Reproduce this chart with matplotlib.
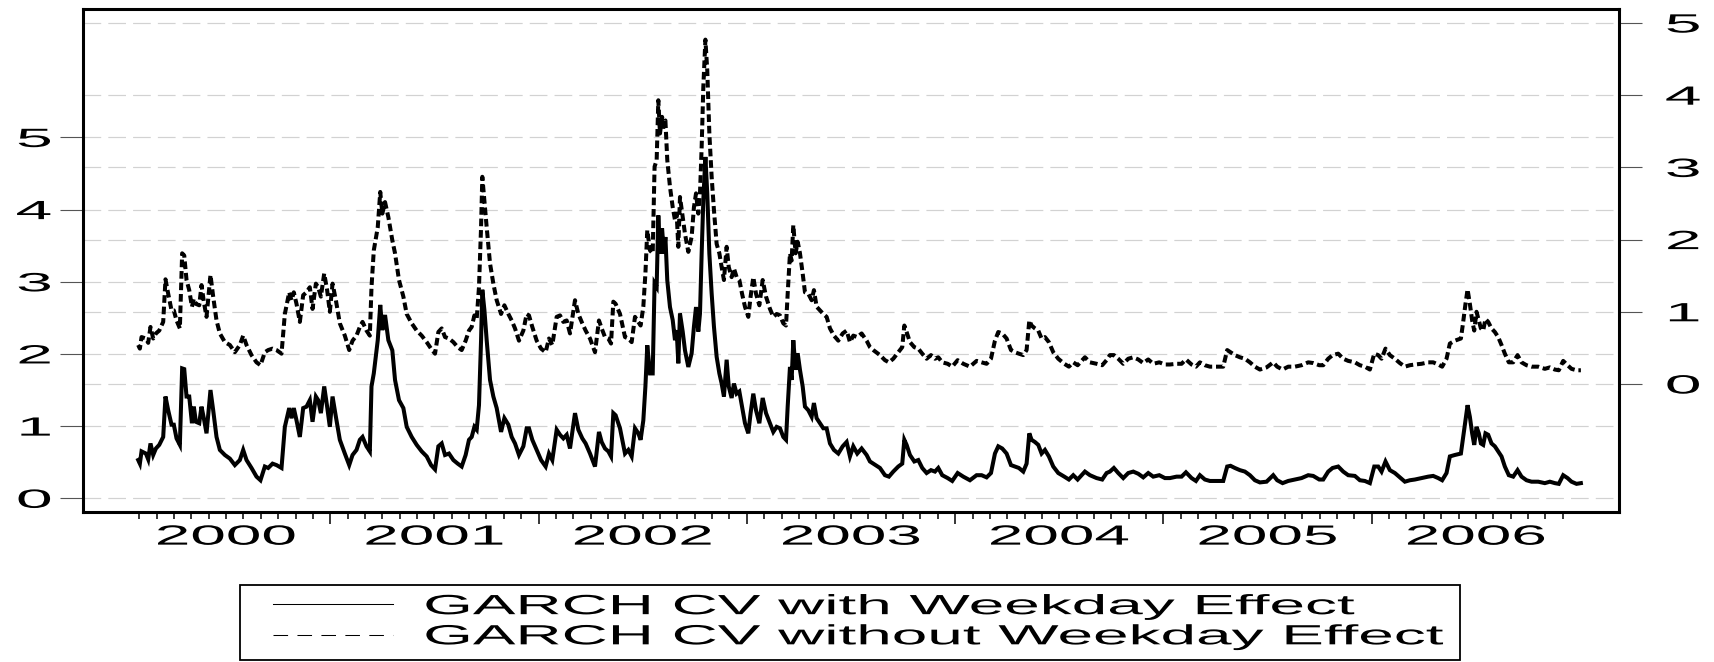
import matplotlib
matplotlib.use("Agg")
import numpy as np
import matplotlib.pyplot as plt
from matplotlib.lines import Line2D
from matplotlib.patheffects import AbstractPathEffect
from matplotlib.transforms import Affine2D
from matplotlib.legend_handler import HandlerLine2D

plt.rcParams['font.family'] = ['Liberation Sans', 'DejaVu Sans']

# ---------------- data (decimal year) ----------------
t = [2000.078, 2000.086, 2000.094, 2000.115, 2000.126, 2000.137, 2000.150, 2000.163, 2000.179, 2000.198,
     2000.209, 2000.222, 2000.238, 2000.249, 2000.262, 2000.278, 2000.289, 2000.299, 2000.310, 2000.323,
     2000.336, 2000.345, 2000.355, 2000.371, 2000.382, 2000.393, 2000.406, 2000.425, 2000.438, 2000.454,
     2000.470, 2000.494, 2000.518, 2000.542, 2000.566, 2000.582, 2000.598, 2000.622, 2000.646, 2000.665,
     2000.686, 2000.702, 2000.723, 2000.742, 2000.766, 2000.782, 2000.803, 2000.814, 2000.825, 2000.838,
     2000.854, 2000.870, 2000.886, 2000.902, 2000.915, 2000.931, 2000.942, 2000.955, 2000.971, 2000.985,
     2000.998, 2001.011, 2001.027, 2001.046, 2001.070, 2001.091, 2001.107, 2001.126, 2001.142, 2001.155,
     2001.174, 2001.190, 2001.198, 2001.209,
     2001.228, 2001.240, 2001.250, 2001.263, 2001.279, 2001.298, 2001.311, 2001.330, 2001.351, 2001.367,
     2001.391, 2001.415, 2001.439, 2001.463, 2001.484, 2001.503, 2001.519, 2001.535, 2001.551, 2001.570,
     2001.591, 2001.612, 2001.631, 2001.650, 2001.666, 2001.679, 2001.692, 2001.703, 2001.714, 2001.724,
     2001.730, 2001.740, 2001.751, 2001.767, 2001.783, 2001.799, 2001.820, 2001.836, 2001.855, 2001.871,
     2001.887, 2001.906, 2001.927, 2001.943, 2001.954, 2001.970, 2001.991, 2002.012, 2002.034, 2002.050,
     2002.066, 2002.087, 2002.103, 2002.119, 2002.135, 2002.151, 2002.175, 2002.191, 2002.210, 2002.226,
     2002.247, 2002.271, 2002.290, 2002.303, 2002.319, 2002.335, 2002.348, 2002.359, 2002.370,
     2002.391, 2002.415, 2002.431, 2002.447, 2002.463, 2002.479, 2002.490, 2002.503, 2002.513, 2002.522,
     2002.535, 2002.548, 2002.557, 2002.567, 2002.575, 2002.583, 2002.593, 2002.602, 2002.609, 2002.618,
     2002.631, 2002.644, 2002.655, 2002.663, 2002.671, 2002.679, 2002.692, 2002.703, 2002.719, 2002.735,
     2002.746, 2002.756, 2002.767, 2002.775, 2002.783, 2002.791, 2002.801, 2002.810, 2002.820, 2002.831,
     2002.842, 2002.855, 2002.868, 2002.879, 2002.890, 2002.903, 2002.913, 2002.927, 2002.938, 2002.951,
     2002.964, 2002.977, 2002.991, 2003.007, 2003.018, 2003.031, 2003.044, 2003.060, 2003.076, 2003.092,
     2003.111, 2003.127, 2003.143, 2003.159, 2003.175, 2003.188, 2003.196, 2003.207, 2003.215, 2003.223,
     2003.234, 2003.244, 2003.255, 2003.268, 2003.279, 2003.295, 2003.311, 2003.322, 2003.335, 2003.351,
     2003.367, 2003.383, 2003.399, 2003.418, 2003.439, 2003.460, 2003.479, 2003.495, 2003.511, 2003.530,
     2003.551, 2003.575, 2003.591,
     2003.607, 2003.639, 2003.663, 2003.682, 2003.703, 2003.727, 2003.746, 2003.756, 2003.767, 2003.783,
     2003.804, 2003.823, 2003.842, 2003.863, 2003.884, 2003.903, 2003.919, 2003.938, 2003.964, 2003.986,
     2004.012, 2004.039, 2004.071, 2004.103, 2004.127, 2004.151, 2004.172, 2004.191, 2004.207, 2004.226,
     2004.247, 2004.268, 2004.287, 2004.306, 2004.327, 2004.343, 2004.356, 2004.367, 2004.383, 2004.399,
     2004.415, 2004.431, 2004.450, 2004.471, 2004.495, 2004.524, 2004.546, 2004.567, 2004.588, 2004.623,
     2004.647, 2004.679, 2004.706, 2004.727,
     2004.743, 2004.762, 2004.783, 2004.807, 2004.831, 2004.855, 2004.879, 2004.903, 2004.927, 2004.951,
     2004.980, 2005.007, 2005.031, 2005.063, 2005.087, 2005.108, 2005.135, 2005.156, 2005.175, 2005.199,
     2005.223, 2005.255, 2005.287, 2005.306, 2005.322, 2005.343, 2005.367, 2005.391, 2005.415, 2005.439,
     2005.463, 2005.495, 2005.527, 2005.546, 2005.572, 2005.599, 2005.631, 2005.663, 2005.695, 2005.719,
     2005.748, 2005.767, 2005.791, 2005.812, 2005.839, 2005.863, 2005.887,
     2005.919, 2005.943, 2005.967, 2005.991, 2006.012, 2006.031, 2006.047, 2006.066, 2006.087, 2006.111,
     2006.135, 2006.159, 2006.183, 2006.207, 2006.239, 2006.271, 2006.295, 2006.319, 2006.338, 2006.359,
     2006.375, 2006.399, 2006.428, 2006.439, 2006.450, 2006.460, 2006.471, 2006.482, 2006.492, 2006.503,
     2006.514, 2006.524, 2006.535, 2006.546, 2006.559, 2006.575, 2006.591, 2006.607, 2006.623, 2006.639,
     2006.658, 2006.679, 2006.700, 2006.719, 2006.743, 2006.767, 2006.799, 2006.831, 2006.855, 2006.879,
     2006.898, 2006.919, 2006.940, 2006.959, 2006.983, 2007.004]

cv_with = [0.53, 0.48, 0.65, 0.62, 0.54, 0.76, 0.60, 0.69, 0.74, 0.85,
           1.41, 1.22, 1.02, 1.02, 0.83, 0.74, 1.80, 1.79, 1.41, 1.41,
           1.04, 1.27, 1.06, 1.04, 1.27, 1.11, 0.90, 1.50, 1.22, 0.85,
           0.67, 0.60, 0.55, 0.46, 0.53, 0.67, 0.53, 0.42, 0.30, 0.25,
           0.44, 0.42, 0.48, 0.46, 0.42, 0.99, 1.25, 1.11, 1.25, 1.08,
           0.85, 1.25, 1.27, 1.36, 1.06, 1.41, 1.36, 1.18, 1.55, 1.27,
           0.99, 1.41, 1.13, 0.81, 0.62, 0.46, 0.60, 0.67, 0.81, 0.85,
           0.72, 0.65, 1.55, 1.73,
           2.19, 2.68, 2.33, 2.54, 2.19, 2.05, 1.64, 1.36, 1.25, 0.99,
           0.85, 0.74, 0.65, 0.58, 0.46, 0.40, 0.72, 0.76, 0.60, 0.62,
           0.53, 0.48, 0.44, 0.60, 0.81, 0.85, 0.99, 0.95, 1.29, 2.19,
           2.89, 2.61, 2.19, 1.64, 1.41, 1.25, 0.92, 1.11, 1.02, 0.85,
           0.76, 0.60, 0.72, 0.97, 0.97, 0.81, 0.67, 0.53, 0.44, 0.62,
           0.53, 0.95, 0.88, 0.83, 0.88, 0.69, 1.18, 0.95, 0.83, 0.76,
           0.62, 0.44, 0.92, 0.78, 0.69, 0.65, 0.58, 1.18, 1.15,
           0.97, 0.62, 0.67, 0.58, 0.97, 0.90, 0.81, 1.08, 1.55, 2.12,
           1.73, 1.73, 2.98, 2.93, 3.92, 3.39, 3.74, 3.39, 3.62, 3.02,
           2.65, 2.47, 2.19, 2.33, 1.87, 2.56, 2.31, 2.05, 1.82, 2.01,
           2.38, 2.65, 2.31, 2.56, 3.39, 4.13, 4.73, 4.22, 3.39, 2.84,
           2.38, 1.96, 1.73, 1.59, 1.41, 1.92, 1.55, 1.39, 1.59, 1.45,
           1.48, 1.27, 1.04, 0.90, 1.18, 1.45, 1.22, 1.04, 1.39, 1.18,
           1.04, 0.92, 0.99, 0.97, 0.85, 0.81, 1.27, 1.82, 1.64, 2.19,
           1.78, 2.01, 1.78, 1.55, 1.27, 1.22, 1.13, 1.32, 1.11, 1.04,
           0.97, 0.97, 0.76, 0.67, 0.62, 0.72, 0.78, 0.58, 0.72, 0.62,
           0.69, 0.60, 0.51,
           0.48, 0.42, 0.32, 0.30, 0.37, 0.44, 0.48, 0.81, 0.74, 0.60,
           0.51, 0.53, 0.42, 0.35, 0.39, 0.37, 0.42, 0.32, 0.28, 0.24,
           0.35, 0.30, 0.25, 0.32, 0.32, 0.29, 0.35, 0.62, 0.72, 0.69,
           0.62, 0.46, 0.44, 0.42, 0.37, 0.48, 0.90, 0.81, 0.78, 0.74,
           0.62, 0.67, 0.58, 0.44, 0.35, 0.30, 0.26, 0.32, 0.26, 0.37,
           0.32, 0.28, 0.26, 0.35,
           0.37, 0.42, 0.35, 0.28, 0.35, 0.37, 0.34, 0.29, 0.35, 0.30,
           0.32, 0.28, 0.28, 0.30, 0.30, 0.36, 0.28, 0.24, 0.32, 0.26,
           0.24, 0.24, 0.24, 0.44, 0.45, 0.42, 0.39, 0.37, 0.32, 0.25,
           0.22, 0.23, 0.32, 0.25, 0.21, 0.24, 0.26, 0.28, 0.32, 0.31,
           0.26, 0.26, 0.37, 0.42, 0.44, 0.37, 0.32,
           0.31, 0.25, 0.24, 0.21, 0.44, 0.44, 0.37, 0.51, 0.39, 0.35,
           0.29, 0.23, 0.25, 0.26, 0.28, 0.30, 0.31, 0.28, 0.25, 0.35,
           0.58, 0.60, 0.62, 0.85, 1.08, 1.29, 1.13, 0.90, 0.74, 0.99,
           0.90, 0.76, 0.74, 0.90, 0.88, 0.76, 0.72, 0.65, 0.58, 0.44,
           0.32, 0.30, 0.39, 0.30, 0.25, 0.23, 0.23, 0.21, 0.23, 0.21,
           0.20, 0.32, 0.28, 0.23, 0.20, 0.21]

cv_without = [0.54, 0.49, 0.65, 0.63, 0.57, 0.79, 0.63, 0.70, 0.74, 0.86,
              1.45, 1.25, 1.02, 1.02, 0.88, 0.77, 1.81, 1.78, 1.44, 1.30,
              1.07, 1.18, 1.11, 1.09, 1.37, 1.14, 0.93, 1.51, 1.21, 0.88,
              0.70, 0.58, 0.54, 0.44, 0.54, 0.67, 0.54, 0.40, 0.30, 0.26,
              0.44, 0.47, 0.49, 0.47, 0.42, 0.97, 1.27, 1.16, 1.27, 1.11,
              0.86, 1.23, 1.27, 1.34, 1.04, 1.39, 1.34, 1.21, 1.53, 1.30,
              1.00, 1.39, 1.16, 0.84, 0.67, 0.47, 0.60, 0.67, 0.79, 0.86,
              0.74, 0.67, 1.34, 1.85,
              2.17, 2.66, 2.36, 2.52, 2.31, 1.99, 1.81, 1.44, 1.21, 0.97,
              0.84, 0.74, 0.67, 0.58, 0.49, 0.42, 0.72, 0.77, 0.65, 0.63,
              0.58, 0.51, 0.47, 0.60, 0.74, 0.79, 0.95, 0.90, 1.34, 2.17,
              2.87, 2.54, 2.17, 1.67, 1.39, 1.16, 0.97, 1.09, 0.97, 0.88,
              0.77, 0.60, 0.74, 0.97, 0.95, 0.79, 0.60, 0.49, 0.44, 0.63,
              0.54, 0.93, 0.95, 0.86, 0.88, 0.70, 1.16, 0.97, 0.84, 0.74,
              0.63, 0.44, 0.88, 0.77, 0.65, 0.63, 0.56, 1.14, 1.11,
              0.97, 0.65, 0.63, 0.58, 0.93, 0.86, 0.81, 1.07, 1.53, 2.13,
              1.85, 1.81, 3.01, 3.10, 3.93, 3.47, 3.70, 3.56, 3.65, 3.10,
              2.73, 2.45, 2.27, 2.36, 1.90, 2.59, 2.31, 2.08, 1.83, 2.04,
              2.45, 2.64, 2.36, 2.64, 3.28, 4.11, 4.77, 4.34, 3.47, 2.87,
              2.41, 1.94, 1.81, 1.62, 1.44, 1.90, 1.62, 1.48, 1.60, 1.48,
              1.44, 1.25, 1.07, 0.93, 1.21, 1.48, 1.25, 1.09, 1.44, 1.21,
              1.04, 0.93, 0.97, 0.95, 0.84, 0.81, 1.25, 1.81, 1.71, 2.20,
              1.81, 1.97, 1.81, 1.53, 1.27, 1.25, 1.16, 1.30, 1.07, 1.02,
              0.97, 0.93, 0.77, 0.67, 0.60, 0.70, 0.74, 0.58, 0.67, 0.65,
              0.70, 0.60, 0.51,
              0.47, 0.40, 0.33, 0.30, 0.35, 0.44, 0.51, 0.81, 0.72, 0.58,
              0.51, 0.49, 0.42, 0.35, 0.40, 0.35, 0.37, 0.30, 0.28, 0.24,
              0.33, 0.28, 0.24, 0.32, 0.30, 0.28, 0.35, 0.60, 0.72, 0.70,
              0.63, 0.47, 0.44, 0.42, 0.40, 0.47, 0.88, 0.81, 0.77, 0.74,
              0.63, 0.65, 0.58, 0.44, 0.35, 0.28, 0.24, 0.30, 0.26, 0.37,
              0.30, 0.28, 0.26, 0.33,
              0.40, 0.40, 0.35, 0.28, 0.35, 0.37, 0.34, 0.29, 0.34, 0.28,
              0.30, 0.27, 0.27, 0.28, 0.28, 0.34, 0.27, 0.24, 0.30, 0.26,
              0.24, 0.24, 0.24, 0.47, 0.44, 0.40, 0.37, 0.35, 0.30, 0.24,
              0.20, 0.23, 0.30, 0.24, 0.20, 0.24, 0.24, 0.26, 0.30, 0.29,
              0.26, 0.26, 0.35, 0.40, 0.42, 0.35, 0.32,
              0.30, 0.26, 0.24, 0.20, 0.42, 0.40, 0.35, 0.49, 0.40, 0.35,
              0.29, 0.24, 0.26, 0.27, 0.28, 0.30, 0.30, 0.27, 0.24, 0.35,
              0.56, 0.60, 0.63, 0.86, 1.11, 1.31, 1.11, 0.88, 0.74, 1.00,
              0.88, 0.77, 0.74, 0.90, 0.86, 0.77, 0.72, 0.65, 0.54, 0.42,
              0.30, 0.30, 0.40, 0.30, 0.26, 0.24, 0.24, 0.21, 0.23, 0.20,
              0.19, 0.32, 0.26, 0.21, 0.19, 0.19]

years = [2000, 2001, 2002, 2003, 2004, 2005, 2006]
left_ticks = [0, 1, 2, 3, 4, 5]
right_ticks = [0, 1, 2, 3, 4, 5]
legend_labels = ['GARCH CV with Weekday Effect', 'GARCH CV without Weekday Effect']


class HStretch(AbstractPathEffect):
    """Draw text horizontally stretched (the reference uses a very wide face)."""
    def __init__(self, sx, anchor='center'):
        super().__init__()
        self.sx = sx
        self.anchor = anchor

    def draw_path(self, renderer, gc, tpath, affine, rgbFace=None):
        ext = tpath.get_extents(affine)
        if self.anchor == 'left':
            x0 = affine.transform((0, 0))[0]
        elif self.anchor == 'right':
            x0 = ext.x1
        else:
            x0 = 0.5 * (ext.x0 + ext.x1)
        if not np.isfinite(x0):
            x0 = 0.0
        tr = affine + Affine2D().translate(-x0, 0).scale(self.sx, 1.0).translate(x0, 0)
        renderer.draw_path(gc, tpath, tr, rgbFace)


W, H = 1714, 662
fig = plt.figure(figsize=(W / 100, H / 100), dpi=100)
fig.patch.set_facecolor('white')
rect = [83 / W, 1 - 512 / H, (1619 - 83) / W, (512 - 9) / H]
ax = fig.add_axes(rect)
ax_r = ax.twinx()
ax.set_zorder(2)
ax_r.set_zorder(1)
ax.patch.set_visible(False)

ax.set_xlim(1999.813, 2007.187)
ax.set_ylim(-0.19, 6.78)
ax_r.set_ylim(-1.773, 5.194)

grid_kw = dict(color='#d2d2d2', linewidth=0.85, linestyle=(0, (15, 6)))
ax.set_axisbelow(True)
ax.yaxis.grid(True, **grid_kw)
ax_r.yaxis.grid(True, **grid_kw)

ax.plot(t, cv_with, color='black', lw=2.9, solid_joinstyle='miter', zorder=3)
ax.plot(t, cv_without, color='black', lw=2.9, linestyle=(0, (1.9, 0.95)),
        transform=ax_r.transData, zorder=3)

# y axes
ax.set_yticks(left_ticks)
ax.set_yticklabels([str(v) for v in left_ticks])
ax_r.set_yticks(right_ticks)
ax_r.set_yticklabels([str(v) for v in right_ticks])
ax.tick_params(axis='y', direction='out', length=16.5, width=0.8, color='#555555',
               pad=6.5, labelsize=19)
ax_r.tick_params(axis='y', direction='out', length=16.5, width=0.8, color='#555555',
                 pad=16.5, labelsize=19)

# x axis: month ticks, longer January ticks, year labels centred in each year
jan_ticks = [y for y in years[1:]]
month_ticks = [y + m / 12 for y in years for m in range(1, 12)]
ax.set_xticks(jan_ticks)
ax.set_xticklabels([])
ax.set_xticks(month_ticks, minor=True)
ax.tick_params(axis='x', which='major', direction='out', length=8.3, width=1.1, color='black')
ax.tick_params(axis='x', which='minor', direction='out', length=4.7, width=1.1, color='black')

sec = ax.secondary_xaxis('bottom')
sec.set_xticks([y + 0.5 for y in years])
sec.set_xticklabels([str(y) for y in years])
sec.tick_params(axis='x', length=0, pad=9.1, labelsize=20)
sec.spines['bottom'].set_visible(False)

for s in ax.spines.values():
    s.set_linewidth(2.2)
    s.set_color('black')
for s in ax_r.spines.values():
    s.set_visible(False)

for lbl in ax.get_yticklabels():
    lbl.set_path_effects([HStretch(2.5, 'right')])
for lbl in ax_r.get_yticklabels():
    lbl.set_path_effects([HStretch(2.5, 'left')])
for lbl in sec.get_xticklabels():
    lbl.set_path_effects([HStretch(2.3, 'center')])

# legend
fs_leg = 20
px = fs_leg * 100 / 72
handles = [Line2D([], [], color='black', lw=0.75),
           Line2D([], [], color='black', lw=0.75, linestyle=(0, (14, 9)))]
leg = fig.legend(handles, legend_labels, loc='upper left',
                 bbox_to_anchor=(240 / W, 0, 1220 / W, 1 - 585 / H),
                 mode='expand', ncol=1, fontsize=fs_leg, frameon=True, fancybox=False,
                 framealpha=1, edgecolor='black', borderaxespad=0, borderpad=0.33,
                 labelspacing=0.15, handlelength=144 / px, handletextpad=30 / px,
                 handler_map={Line2D: HandlerLine2D(xpad=24 / px)})
leg.get_frame().set_linewidth(1.3)
for txt in leg.get_texts():
    txt.set_path_effects([HStretch(2.3, 'left')])

fig.savefig('out.png', dpi=100)
